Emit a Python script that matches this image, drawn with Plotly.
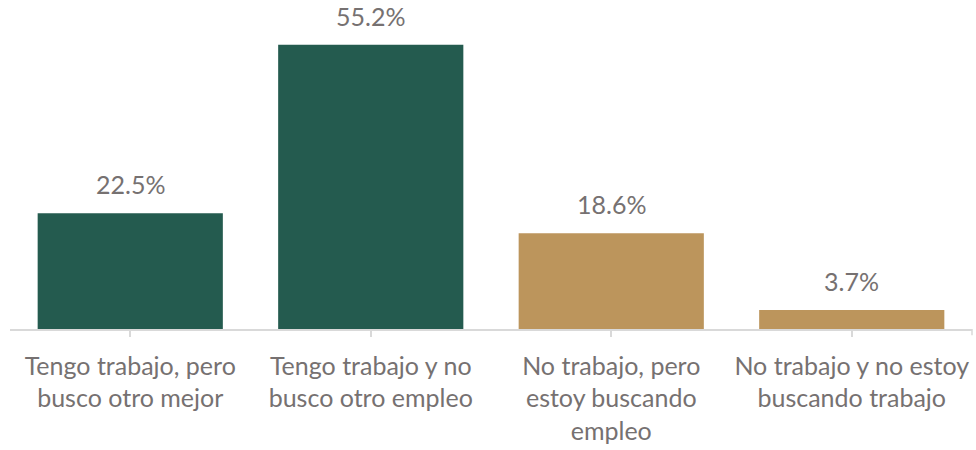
import plotly.graph_objects as go

categories = ["Tengo trabajo, pero<br>busco otro mejor",
              "Tengo trabajo y no<br>busco otro empleo",
              "No trabajo, pero<br>estoy buscando<br>empleo",
              "No trabajo y no estoy<br>buscando trabajo"]
values = [22.5, 55.2, 18.6, 3.7]
labels = ["22.5%", "55.2%", "18.6%", "3.7%"]
colors = ["#245B4F", "#245B4F", "#BC955C", "#BC955C"]

FONT = "Source Sans Pro, Lato, sans-serif"
GRAY = "#767171"

fig = go.Figure(go.Bar(x=categories, y=values, marker=dict(color=colors, line=dict(width=0)),
                       hoverinfo="skip"))

for c, v, t in zip(categories, values, labels):
    fig.add_annotation(x=c, y=v, text=t, showarrow=False, yanchor="bottom",
                       yshift=12, font=dict(family=FONT, size=25, color=GRAY))

fig.add_shape(type="line", xref="paper", yref="paper", x0=1, x1=1, y0=0, y1=-0.02,
              line=dict(color="#D9D9D9", width=1.5))

fig.update_layout(
    width=976, height=450,
    margin=dict(l=10, r=4, t=20, b=121, autoexpand=False),
    paper_bgcolor="white", plot_bgcolor="white",
    bargap=0.23, showlegend=False,
    font=dict(family=FONT, size=25, color=GRAY),
)
fig.update_xaxes(showline=True, linecolor="#D9D9D9", linewidth=1.5, automargin=False,
                 ticks="outside", ticklen=6, tickcolor="#D9D9D9", tickwidth=1.5,
                 ticklabelstandoff=8,
                 tickfont=dict(family=FONT, size=25, color=GRAY), tickangle=0)
fig.update_yaxes(range=[0, 60], visible=False, showgrid=False, automargin=False)

fig.write_html("out.html", config={"displayModeBar": False},
               post_script="document.body.style.margin='0';document.body.style.overflow='hidden';")
